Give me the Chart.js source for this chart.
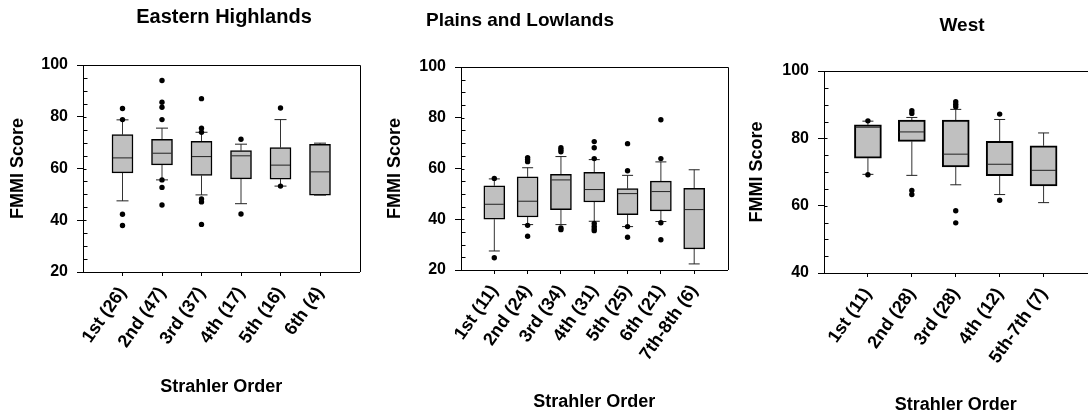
<!DOCTYPE html>
<html>
<head>
<meta charset="utf-8">
<script src="https://cdn.jsdelivr.net/npm/chart.js@4.4.1/dist/chart.umd.min.js"></script>
<style>
  html, body { margin: 0; padding: 0; background: #fff; overflow: hidden; }
  body { width: 1088px; height: 417px; position: relative; }
  canvas { position: absolute; top: 0; }
</style>
</head>
<body>
<canvas id="eastern" width="370" height="417" style="left:0"></canvas>
<canvas id="plains" width="360" height="417" style="left:378px"></canvas>
<canvas id="west" width="360" height="417" style="left:741px"></canvas>
<script>
// Eastern Highlands: FMMI score by Strahler order
const ehLabels = ['1st (26)', '2nd (47)', '3rd (37)', '4th (17)', '5th (16)', '6th (4)'];
const ehLow  = [47.5, 55.6, 49.8, 46.4, 53.2, 49.7];
const ehQ1   = [58.3, 61.4, 57.3, 56.0, 55.9, 49.7];
const ehMed  = [64.1, 65.9, 64.6, 64.9, 61.3, 58.7];
const ehQ3   = [73.1, 71.3, 70.5, 66.9, 68.1, 69.3];
const ehHigh = [78.8, 75.6, 74.0, 69.4, 78.9, 69.8];
const ehOut  = [[83.2, 78.9, 42.3, 38.0], [94.0, 85.6, 83.7, 78.9, 55.6, 52.7, 45.9],
                [87.0, 75.6, 74.0, 48.2, 47.1, 38.4], [71.3, 42.4], [83.4, 53.2], []];
const ehTicks = [20, 40, 60, 80, 100];

// Plains and Lowlands
const plLabels = ['1st (11)', '2nd (24)', '3rd (34)', '4th (31)', '5th (25)', '6th (21)', '7th-8th (6)'];
const plLow  = [27.5, 37.9, 37.9, 39.2, 37.1, 39.1, 22.4];
const plQ1   = [40.0, 40.9, 43.8, 46.8, 41.8, 43.3, 28.3];
const plMed  = [45.9, 47.1, 55.5, 51.7, 50.1, 50.9, 43.8];
const plQ3   = [53.2, 56.7, 57.7, 58.5, 52.1, 55.0, 52.2];
const plHigh = [55.9, 60.3, 64.7, 63.5, 57.3, 62.6, 59.5];
const plOut  = [[56.1, 24.8], [64.3, 63.5, 62.7, 37.6, 33.3], [68.2, 67.4, 66.6, 36.6, 35.9],
                [70.6, 68.2, 63.9, 38.3, 37.2, 36.3, 35.5], [69.8, 59.1, 37.1, 32.9],
                [79.2, 63.9, 38.6, 31.9], []];
const plTicks = [20, 40, 60, 80, 100];

// West
const wLabels = ['1st (11)', '2nd (28)', '3rd (28)', '4th (12)', '5th-7th (7)'];
const wLow  = [69.3, 69.0, 66.2, 63.3, 60.9];
const wQ1   = [74.1, 79.1, 71.5, 68.9, 65.9];
const wMed  = [83.3, 81.9, 75.3, 72.3, 70.5];
const wQ3   = [84.0, 85.4, 85.4, 79.1, 77.8];
const wHigh = [85.1, 86.2, 88.6, 85.6, 81.6];
const wOut  = [[85.2, 69.2], [88.2, 87.4, 64.5, 63.3], [90.9, 90.1, 89.4, 58.5, 54.9], [87.2, 61.6], []];
const wTicks = [40, 60, 80, 100];

const FONT = '"Liberation Sans", Arial, Helvetica, sans-serif';

// frame, minor ticks and panel heading
const panelDecor = {
    id: 'panelDecor',
    afterDraw(chart, args, o) {
        const { ctx, chartArea: a, scales: { y } } = chart;
        const L = Math.round(a.left) + 0.5, T = Math.round(a.top) + 0.5;
        const R = Math.round(a.right) + 0.5;
        ctx.save();
        ctx.strokeStyle = '#000';
        ctx.lineWidth = 1;
        ctx.beginPath();
        ctx.moveTo(L, T);
        ctx.lineTo(R, T);
        ctx.lineTo(R, Math.round(a.bottom));
        // small inward ticks on the y axis
        for (let v = y.min; v <= y.max + 0.01; v += 5) {
            const py = Math.round(y.getPixelForValue(v)) + 0.5;
            const len = v % 20 === 0 ? 3 : 4;
            ctx.moveTo(L, py);
            ctx.lineTo(L + len, py);
        }
        ctx.stroke();

        ctx.fillStyle = '#000';
        ctx.font = 'bold ' + o.titleSize + 'px ' + FONT;
        ctx.textAlign = 'center';
        ctx.textBaseline = 'middle';
        ctx.fillText(o.title, o.titleX, o.titleY);
        ctx.restore();
    }
};

function drawBoxPanel(id, p) {
    const xs = p.labels.map((_, i) => i + 1);

    // whisker stems, broken between boxes by null points
    const stems = [];
    xs.forEach((x, i) => {
        stems.push({ x, y: p.low[i] }, { x, y: p.q1[i] }, { x, y: null });
        stems.push({ x, y: p.q3[i] }, { x, y: p.high[i] }, { x, y: null });
    });
    const caps = xs.flatMap((x, i) => [{ x, y: p.low[i] }, { x, y: p.high[i] }]);
    const outliers = xs.flatMap((x, i) => p.out[i].map(v => ({ x, y: v })));

    const tickFont = { family: FONT, size: 16, weight: 'bold' };
    const titleFont = { family: FONT, size: 18, weight: 'bold' };

    new Chart(document.getElementById(id), {
        type: 'bar',
        data: {
            datasets: [
                {
                    type: 'scatter',
                    data: outliers,
                    pointStyle: 'circle',
                    pointRadius: 2.7,
                    pointBackgroundColor: '#000',
                    pointBorderWidth: 0,
                    order: 0
                },
                {
                    type: 'scatter',
                    data: xs.map((x, i) => ({ x, y: p.med[i] })),
                    pointStyle: 'line',
                    pointRadius: p.boxWidth / 2 - 1,
                    pointBorderColor: '#222',
                    pointBorderWidth: 1,
                    order: 1
                },
                {
                    type: 'scatter',
                    data: caps,
                    pointStyle: 'line',
                    pointRadius: p.capHalf,
                    pointBorderColor: '#222',
                    pointBorderWidth: 1,
                    order: 2
                },
                {
                    type: 'bar',
                    data: xs.map((x, i) => ({ x, y: [p.q1[i], p.q3[i]] })),
                    backgroundColor: '#c0c0c0',
                    borderColor: '#000',
                    borderWidth: p.boxBorder,
                    borderSkipped: false,
                    barThickness: p.boxWidth,
                    grouped: false,
                    order: 3
                },
                {
                    type: 'line',
                    data: stems,
                    borderColor: '#333',
                    borderWidth: 1,
                    pointRadius: 0,
                    spanGaps: false,
                    order: 4
                }
            ]
        },
        options: {
            responsive: false,
            animation: false,
            events: [],
            layout: { padding: { top: p.area.top, right: p.area.right, left: 0, bottom: 0 } },
            plugins: {
                legend: { display: false },
                tooltip: { enabled: false },
                panelDecor: { title: p.title, titleX: p.titleX, titleY: p.titleY, titleSize: p.titleSize }
            },
            scales: {
                x: {
                    type: 'linear',
                    offset: false,
                    min: 0,
                    max: xs.length + 1,
                    afterBuildTicks: s => { s.ticks = xs.map(v => ({ value: v })); },
                    afterFit: s => { s.height = p.area.xHeight; },
                    ticks: {
                        autoSkip: false,
                        minRotation: 55,
                        maxRotation: 55,
                        padding: 7,
                        color: '#000',
                        font: { family: FONT, size: 18, weight: 'bold' },
                        callback: v => p.labels[v - 1]
                    },
                    grid: { offset: false, drawOnChartArea: false, tickLength: 4, color: '#000' },
                    border: { color: '#000', width: 1 },
                    title: {
                        display: true,
                        text: 'Strahler Order',
                        color: '#000',
                        font: titleFont,
                        padding: { top: 0, bottom: p.xTitlePad }
                    }
                },
                y: {
                    min: p.ticks[0],
                    max: p.ticks[p.ticks.length - 1],
                    afterBuildTicks: s => { s.ticks = p.ticks.map(v => ({ value: v })); },
                    afterFit: s => { s.width = p.area.left; },
                    ticks: { padding: 9, color: '#000', font: tickFont },
                    grid: { drawOnChartArea: false, tickLength: 6, color: '#000' },
                    border: { color: '#000', width: 1 },
                    title: {
                        display: true,
                        text: 'FMMI Score',
                        color: '#000',
                        font: titleFont,
                        padding: { top: p.yTitlePad, bottom: 0 }
                    }
                }
            }
        },
        plugins: [panelDecor]
    });
}

drawBoxPanel('eastern', {
    title: 'Eastern Highlands', titleX: 224, titleY: 17, titleSize: 20,
    labels: ehLabels, low: ehLow, q1: ehQ1, med: ehMed, q3: ehQ3, high: ehHigh, out: ehOut, ticks: ehTicks,
    area: { left: 83, top: 65, right: 9, xHeight: 145 },
    xTitlePad: 19, yTitlePad: 7,
    boxWidth: 21, capHalf: 6, boxBorder: 1.5
});

drawBoxPanel('plains', {
    title: 'Plains and Lowlands', titleX: 142, titleY: 21, titleSize: 19,
    labels: plLabels, low: plLow, q1: plQ1, med: plMed, q3: plQ3, high: plHigh, out: plOut, ticks: plTicks,
    area: { left: 83, top: 67, right: 5, xHeight: 147 },
    xTitlePad: 4, yTitlePad: 6,
    boxWidth: 21, capHalf: 5.5, boxBorder: 1.5
});

drawBoxPanel('west', {
    title: 'West', titleX: 221, titleY: 26, titleSize: 19,
    labels: wLabels, low: wLow, q1: wQ1, med: wMed, q3: wQ3, high: wHigh, out: wOut, ticks: wTicks,
    area: { left: 83, top: 71, right: 5, xHeight: 144 },
    xTitlePad: 1, yTitlePad: 5,
    boxWidth: 27, capHalf: 5.5, boxBorder: 2
});
</script>
</body>
</html>
